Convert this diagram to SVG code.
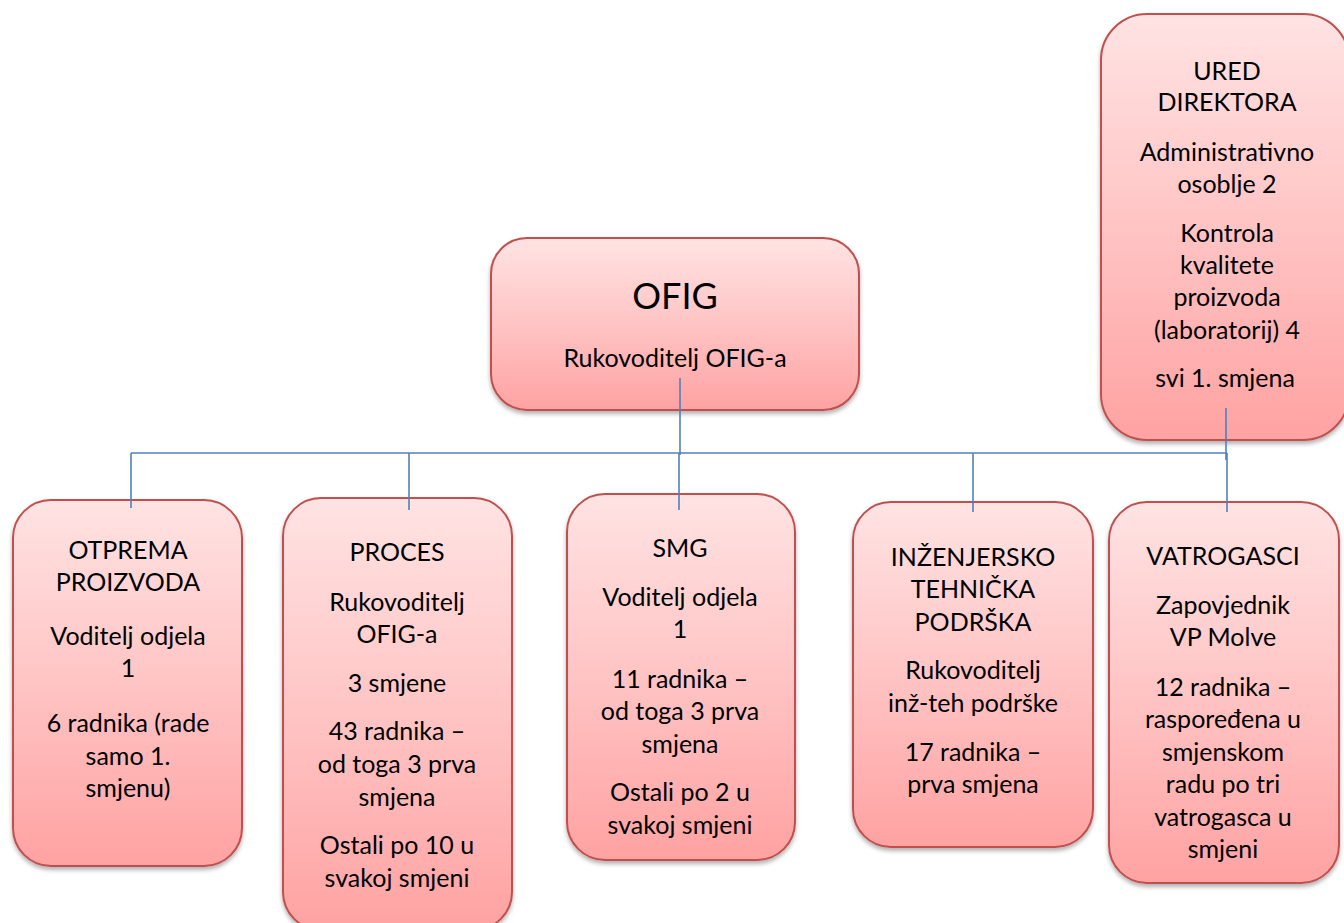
<svg xmlns="http://www.w3.org/2000/svg" width="1344" height="923" viewBox="0 0 1344 923">
<style>
.box{fill:url(#g);stroke:#C0504D;stroke-width:2;filter:url(#sh)}
.t{font-family:Lato,"Liberation Sans",sans-serif;font-size:25px;fill:#000;text-anchor:middle}
.big{font-size:36px}
.c{stroke:#4F81BD;stroke-width:1.6;fill:none}
</style>
<defs>
<linearGradient id="g" x1="0" y1="0" x2="0" y2="1">
<stop offset="0" stop-color="#FFE3E3"/>
<stop offset="0.5" stop-color="#FFC4C4"/>
<stop offset="1" stop-color="#FFA2A2"/>
</linearGradient>
<filter id="sh" x="-10%" y="-10%" width="120%" height="120%">
<feDropShadow dx="0" dy="3" stdDeviation="2" flood-color="#000" flood-opacity="0.3"/>
</filter>
</defs>
<rect width="1344" height="923" fill="#fff"/>

<g id="ofig">
<rect class="box" x="491" y="238" width="368" height="172" rx="36"/>
<text class="t big" x="675" y="309">OFIG</text>
<text class="t" x="675" y="367">Rukovoditelj OFIG-a</text>
</g>

<g id="ured-direktora">
<rect class="box" x="1101" y="14" width="248" height="426" rx="46"/>
<text class="t" x="1227" y="80">URED</text>
<text class="t" x="1227" y="111">DIREKTORA</text>
<text class="t" x="1227" y="161">Administrativno</text>
<text class="t" x="1227" y="193">osoblje 2</text>
<text class="t" x="1227" y="242">Kontrola</text>
<text class="t" x="1227" y="274">kvalitete</text>
<text class="t" x="1227" y="306">proizvoda</text>
<text class="t" x="1227" y="339">(laboratorij) 4</text>
<text class="t" x="1225" y="387">svi 1. smjena</text>
</g>

<g id="otprema">
<rect class="box" x="13" y="500" width="229" height="366" rx="38"/>
<text class="t" x="128" y="559">OTPREMA</text>
<text class="t" x="128" y="591">PROIZVODA</text>
<text class="t" x="128" y="645">Voditelj odjela</text>
<text class="t" x="128" y="677">1</text>
<text class="t" x="128" y="732">6 radnika (rade</text>
<text class="t" x="128" y="765">samo 1.</text>
<text class="t" x="128" y="797">smjenu)</text>
</g>

<g id="proces">
<rect class="box" x="283" y="498" width="229" height="432" rx="38"/>
<text class="t" x="397" y="561">PROCES</text>
<text class="t" x="397" y="611">Rukovoditelj</text>
<text class="t" x="397" y="643">OFIG-a</text>
<text class="t" x="397" y="692">3 smjene</text>
<text class="t" x="397" y="740">43 radnika –</text>
<text class="t" x="397" y="773">od toga 3 prva</text>
<text class="t" x="397" y="806">smjena</text>
<text class="t" x="397" y="854">Ostali po 10 u</text>
<text class="t" x="397" y="887">svakoj smjeni</text>
</g>

<g id="smg">
<rect class="box" x="567" y="494" width="228" height="366" rx="38"/>
<text class="t" x="680" y="557">SMG</text>
<text class="t" x="680" y="606">Voditelj odjela</text>
<text class="t" x="680" y="638">1</text>
<text class="t" x="680" y="688">11 radnika –</text>
<text class="t" x="680" y="720">od toga 3 prva</text>
<text class="t" x="680" y="753">smjena</text>
<text class="t" x="680" y="801">Ostali po 2 u</text>
<text class="t" x="680" y="834">svakoj smjeni</text>
</g>

<g id="inzenjersko">
<rect class="box" x="853" y="502" width="240" height="345" rx="38"/>
<text class="t" x="973" y="566">INŽENJERSKO</text>
<text class="t" x="973" y="598">TEHNIČKA</text>
<text class="t" x="973" y="631">PODRŠKA</text>
<text class="t" x="973" y="679">Rukovoditelj</text>
<text class="t" x="973" y="712">inž-teh podrške</text>
<text class="t" x="973" y="761">17 radnika –</text>
<text class="t" x="973" y="793">prva smjena</text>
</g>

<g id="vatrogasci">
<rect class="box" x="1109" y="502" width="230" height="381" rx="38"/>
<text class="t" x="1223" y="565">VATROGASCI</text>
<text class="t" x="1223" y="614">Zapovjednik</text>
<text class="t" x="1223" y="646">VP Molve</text>
<text class="t" x="1223" y="696">12 radnika –</text>
<text class="t" x="1223" y="728">raspoređena u</text>
<text class="t" x="1223" y="761">smjenskom</text>
<text class="t" x="1223" y="793">radu po tri</text>
<text class="t" x="1223" y="826">vatrogasca u</text>
<text class="t" x="1223" y="858">smjeni</text>
</g>

<g id="connectors">
<line class="c" x1="680" y1="378" x2="680" y2="455"/>
<line class="c" x1="1226" y1="408" x2="1226" y2="460"/>
<line class="c" x1="131" y1="453" x2="1227" y2="453"/>
<line class="c" x1="131" y1="453" x2="131" y2="508"/>
<line class="c" x1="409" y1="453" x2="409" y2="510"/>
<line class="c" x1="679" y1="453" x2="679" y2="510"/>
<line class="c" x1="973" y1="453" x2="973" y2="512"/>
<line class="c" x1="1227" y1="453" x2="1227" y2="512"/>
</g>
</svg>
